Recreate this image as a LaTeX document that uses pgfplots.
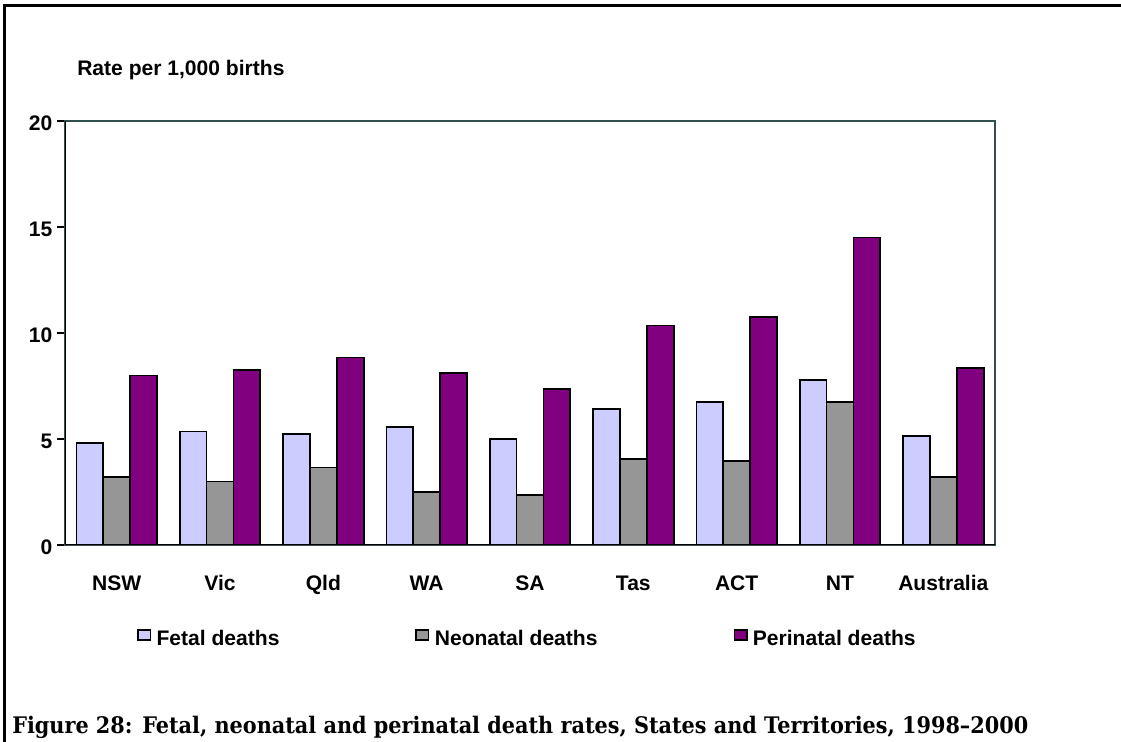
\documentclass[border=0pt]{standalone}
\usepackage{fontspec}
\setmainfont{Liberation Sans}
\newfontfamily\capfont{DejaVu Serif}
\usepackage{pgfplots}
\pgfplotsset{compat=1.18}
\usepackage{graphicx}

\definecolor{fetal}{HTML}{CCCCFF}
\definecolor{neo}{HTML}{969696}
\definecolor{peri}{HTML}{800080}
\definecolor{frameline}{HTML}{2F4F4F}
\newcommand\cf{\fontsize{15.8}{18}\selectfont\bfseries}

\pgfplotsset{sq legend/.style={legend image code/.code={%
  \draw[##1,line width=1pt] (0pt,4pt) rectangle (9.5pt,11.5pt);}}}

\begin{document}
\begin{tikzpicture}
\path[use as bounding box] (0,0) rectangle (840.75pt,556.5pt);
\draw[line width=2.2pt] (3.2pt,0) -- (3.2pt,552.5pt) -- (840.75pt,552.5pt);

\begin{axis}[
  at={(48.75pt,147.75pt)}, anchor=south west,
  width=697.5pt, height=318pt, scale only axis,
  xmin=-0.5, xmax=8.5, ymin=0, ymax=20,
  ybar=0pt, bar width=0.26,
  xtick=data,
  xticklabels={NSW,Vic,Qld,WA,SA,Tas,ACT,NT,Australia},
  ytick={0,5,10,15,20},
  tick align=outside, ytick pos=left,
  major tick length=6pt,
  xtick style={draw=none},
  ytick style={black, line width=1.2pt},
  minor tick num=0,
  axis line style={draw=frameline, line width=1.5pt},
  /pgf/number format/assume math mode=true,
  tick label style={font=\cf},
  yticklabel style={yshift=-2pt},
  xticklabel style={anchor=base, yshift=-28.5pt},
  legend columns=3,
  legend style={at={(0.0774,-0.194)}, anchor=north west, draw=none,
    fill=none, inner sep=0pt, font=\cf,
    nodes={anchor=base west, inner sep=2pt},
    /tikz/every even column/.append style={column sep=100pt},
    /tikz/every odd column/.append style={column sep=2pt}},
]
\addplot[draw=black, fill=fetal, line width=1.3pt, sq legend] coordinates {
  (0,4.8) (1,5.35) (2,5.25) (3,5.55) (4,5.0) (5,6.4) (6,6.75) (7,7.8) (8,5.15)};
\addlegendentry{Fetal deaths}
\addplot[draw=black, fill=neo, line width=1.3pt, sq legend] coordinates {
  (0,3.2) (1,3.0) (2,3.65) (3,2.5) (4,2.35) (5,4.05) (6,3.95) (7,6.75) (8,3.2)};
\addlegendentry{Neonatal deaths}
\addplot[draw=black, fill=peri, line width=1.3pt, sq legend] coordinates {
  (0,8.0) (1,8.27) (2,8.85) (3,8.1) (4,7.35) (5,10.35) (6,10.75) (7,14.5) (8,8.35)};
\addlegendentry{Perinatal deaths}
\draw[black, line width=1.6pt] (rel axis cs:0,1) -- (rel axis cs:0,0) -- (rel axis cs:1,0);
\end{axis}

\node[anchor=base west, inner sep=0pt, font=\cf] at (57.75pt,499.5pt) {Rate per 1,000 births};
\node[anchor=base west, inner sep=0pt] at (9pt,6pt)
  {\resizebox{762pt}{13pt}{\capfont\bfseries Figure 28: Fetal, neonatal and perinatal death rates, States and Territories, 1998–2000}};
\end{tikzpicture}
\end{document}
